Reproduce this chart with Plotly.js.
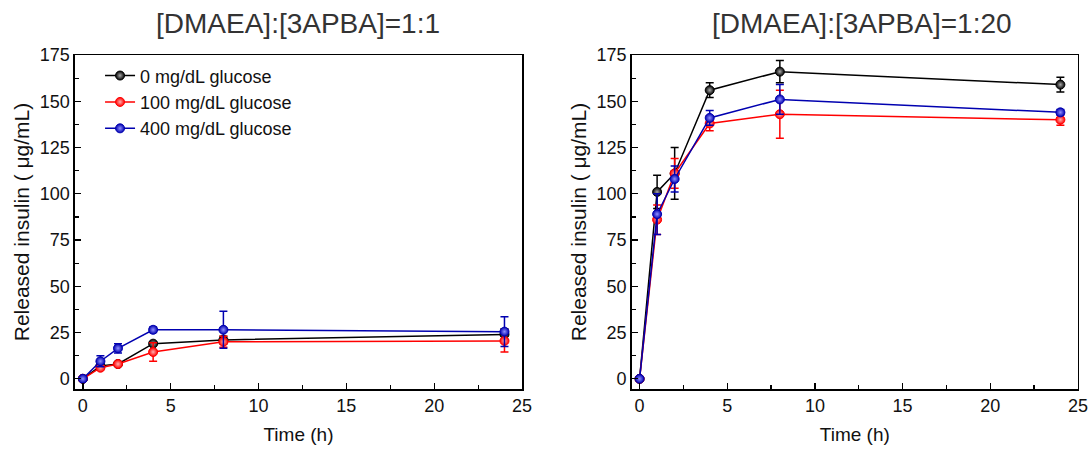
<!DOCTYPE html>
<html><head><meta charset="utf-8">
<script src="https://cdn.plot.ly/plotly-3.0.1.min.js"></script>
<style>body{margin:0;background:#fff}#c{width:1091px;height:450px}</style>
</head><body><div id="c"></div>
<script>
const time = [0, 1, 2, 4, 8, 24];
const seriesNames = ['0 mg/dL glucose', '100 mg/dL glucose', '400 mg/dL glucose'];
const colors = ['#000000', '#ff0000', '#0000b0'];
const glows = ['#aaaaaa', '#ffb0b0', '#9090ff'];

// Left panel: [DMAEA]:[3APBA]=1:1
const left0 = [0, 7, 8, 19, 21, 24];
const left0Err = [0, 1, 1, 1, 2, 3];
const left100 = [0, 6, 8, 14.5, 20, 20.5];
const left100Err = [0, 1, 1, 5, 3, 6];
const left400 = [0, 9.5, 16.5, 26.5, 26.5, 25.5];
const left400Err = [0, 3, 2.5, 1.5, 10, 8];

// Right panel: [DMAEA]:[3APBA]=1:20
const right0 = [0, 101, 111, 156, 166, 159];
const right0Err = [0, 9, 14, 4, 6, 4];
const right100 = [0, 86, 111, 138, 143, 140];
const right100Err = [0, 8, 8, 4, 13, 3];
const right400 = [0, 89, 108, 141, 151, 144];
const right400Err = [0, 11, 7, 4, 8, 1.5];

const yTicks = [0, 25, 50, 75, 100, 125, 150, 175];
const xTicks = [0, 5, 10, 15, 20, 25];

function tr(y, err, i, xa, ya, show) {
  return {
    x: time, y: y, xaxis: xa, yaxis: ya, type: 'scatter', mode: 'lines+markers',
    name: seriesNames[i], showlegend: show,
    line: {color: colors[i], width: 1.5},
    marker: {symbol: 'circle', size: 9, color: colors[i],
             gradient: {type: 'radial', color: glows[i]},
             line: {color: colors[i], width: 1}},
    error_y: {type: 'data', array: err, visible: true, color: colors[i], thickness: 1.5, width: 4}
  };
}
const data = [
  tr(left0, left0Err, 0, 'x', 'y', true),
  tr(left100, left100Err, 1, 'x', 'y', true),
  tr(left400, left400Err, 2, 'x', 'y', true),
  tr(right0, right0Err, 0, 'x2', 'y2', false),
  tr(right100, right100Err, 1, 'x2', 'y2', false),
  tr(right400, right400Err, 2, 'x2', 'y2', false)
];

const fam = 'Liberation Sans, Arial, sans-serif';
const tickFont = {family: fam, size: 18, color: '#111'};
function xax(dom, anchor) {
  return {domain: dom, anchor: anchor, range: [-0.45, 25], tickvals: xTicks,
    ticks: 'inside', ticklen: 6, tickwidth: 1.3, tickcolor: '#000',
    showline: true, linecolor: '#000', linewidth: 1.5, mirror: true,
    showgrid: false, zeroline: false, tickfont: tickFont,
    minor: {dtick: 2.5, tick0: 0, ticks: 'inside', ticklen: 4, tickwidth: 1.2, tickcolor: '#000', showgrid: false},
    title: {text: 'Time (h)', font: {family: fam, size: 19, color: '#111'}, standoff: 12}};
}
function yax(dom, anchor) {
  return {domain: dom, anchor: anchor, range: [-5.5, 175], tickvals: yTicks,
    ticks: 'inside', ticklen: 6, tickwidth: 1.3, tickcolor: '#000',
    showline: true, linecolor: '#000', linewidth: 1.5, mirror: true,
    showgrid: false, zeroline: false, tickfont: tickFont,
    minor: {dtick: 12.5, tick0: 0, ticks: 'inside', ticklen: 4, tickwidth: 1.2, tickcolor: '#000', showgrid: false},
    title: {text: 'Released insulin ( \u03bcg/mL)', font: {family: fam, size: 21, color: '#111'}, standoff: 4}};
}
const layout = {
  width: 1091, height: 450, paper_bgcolor: '#fff', plot_bgcolor: '#fff',
  margin: {l: 0, r: 0, t: 55, b: 61},
  font: tickFont,
  xaxis: xax([0.0687, 0.4785], 'y'),
  yaxis: yax([0, 1], 'x'),
  xaxis2: xax([0.579, 0.988], 'y2'),
  yaxis2: yax([0, 1], 'x2'),
  showlegend: true,
  legend: {x: 0.0917, y: 0.993, xanchor: 'left', yanchor: 'top', bgcolor: 'rgba(0,0,0,0)',
           font: {family: fam, size: 18, color: '#111'},
           tracegroupgap: 0},
  annotations: [
    {text: '[DMAEA]:[3APBA]=1:1', xref: 'paper', yref: 'paper', x: 0.2731, y: 1, yshift: 32,
     xanchor: 'center', yanchor: 'middle',
     showarrow: false, font: {family: fam, size: 28, color: '#333'}},
    {text: '[DMAEA]:[3APBA]=1:20', xref: 'paper', yref: 'paper', x: 0.790, y: 1, yshift: 32,
     xanchor: 'center', yanchor: 'middle',
     showarrow: false, font: {family: fam, size: 28, color: '#333'}}
  ]
};
Plotly.newPlot('c', data, layout, {staticPlot: true});
</script></body></html>
